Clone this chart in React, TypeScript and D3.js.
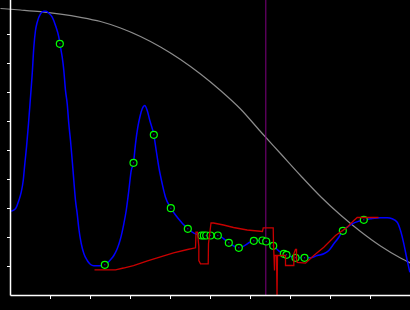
import React from "react";
import * as d3 from "d3";

// ---- data (x and y in axis units, 0..10) ----
const tickValues = [1, 2, 3, 4, 5, 6, 7, 8, 9];

const blueX = [0.018,0.125,0.208,0.268,0.318,0.358,0.4,0.45,0.5,0.543,0.583,0.625,0.668,0.75,0.833,0.893,0.958,1.043,1.125,1.208,1.25,1.293,1.333,1.375,1.418,1.458,1.5,1.543,1.583,1.625,1.668,1.708,1.768,1.833,1.918,2.0,2.083,2.25,2.358,2.418,2.5,2.583,2.668,2.75,2.833,2.893,2.958,3.018,3.075,3.125,3.183,3.233,3.293,3.358,3.418,3.483,3.583,3.643,3.708,3.793,3.875,4.008,4.168,4.433,4.583,4.775,5.0,5.183,5.458,5.708,6.083,6.3,6.393,6.568,6.75,6.833,6.9,7.125,7.35,7.5,7.668,7.833,7.958,8.083,8.208,8.308,8.418,8.543,8.708,8.833,9.0,9.25,9.418,9.543,9.668,9.75,9.833,9.918,9.983];
const blueY = [2.907,2.99,3.276,3.562,3.966,4.541,5.114,5.921,6.838,7.645,8.562,9.138,9.424,9.714,9.803,9.803,9.734,9.597,9.31,8.907,8.562,8.217,7.759,7.069,6.61,5.921,5.345,4.655,3.966,3.276,2.817,2.31,1.793,1.448,1.207,1.069,1.024,1.024,1.059,1.114,1.231,1.379,1.61,1.955,2.472,2.931,3.621,4.31,4.576,5.231,5.803,6.148,6.438,6.552,6.379,6.034,5.541,5.0,4.424,3.852,3.39,3.01,2.7,2.3,2.148,2.069,2.069,2.069,1.817,1.645,1.886,1.897,1.862,1.714,1.493,1.438,1.403,1.3,1.3,1.3,1.379,1.438,1.552,1.783,2.01,2.231,2.355,2.472,2.562,2.61,2.645,2.679,2.679,2.645,2.528,2.241,1.783,1.207,0.803];

const markerX = [1.233,2.358,3.075,3.583,4.008,4.433,4.775,4.833,4.893,5.0,5.183,5.458,5.708,6.083,6.3,6.393,6.568,6.833,6.9,7.125,7.35,8.308,8.833];
const markerY = [8.679,1.059,4.576,5.541,3.01,2.3,2.069,2.069,2.069,2.069,2.069,1.817,1.645,1.886,1.897,1.862,1.714,1.438,1.403,1.3,1.3,2.231,2.61];

const redX = [2.1,2.625,2.825,3.075,3.425,3.75,4.075,4.425,4.625,4.638,4.675,4.708,4.708,4.75,4.943,4.95,5.013,5.075,5.325,5.575,5.918,6.3,6.318,6.568,6.575,6.6,6.608,6.65,6.663,6.675,6.875,6.875,7.083,7.083,7.125,7.15,7.15,7.168,7.375,7.583,7.833,8.125,8.418,8.583,8.668,9.2];
const redY = [0.886,0.886,0.948,1.034,1.19,1.328,1.466,1.586,1.645,2.183,2.183,1.69,1.207,1.093,1.093,1.793,2.5,2.5,2.431,2.345,2.259,2.207,2.334,2.334,1.793,0.862,1.379,1.379,0,1.379,1.379,1.034,1.034,1.438,1.586,1.586,1.266,1.138,1.114,1.379,1.666,2.069,2.355,2.586,2.69,2.69];

const grayX = [-0.25,0.25,0.75,1.25,1.75,2.25,2.75,3.25,3.75,4.25,4.75,5.25,5.75,6.25,6.75,7.25,7.75,8.25,8.75,9.25,9.75,10.0];
const grayY = [9.897,9.845,9.786,9.703,9.593,9.448,9.224,8.931,8.569,8.138,7.638,7.069,6.431,5.655,4.897,4.138,3.414,2.776,2.207,1.707,1.293,1.121];

const cursorX = 6.383;

export default function App() {
  const W = 410, H = 310;
  const x = d3.scaleLinear().domain([0, 10]).range([10.5, 410.5]);
  const y = d3.scaleLinear().domain([0, 10]).range([295.5, 5.5]);

  const blueD = d3.line<number>().x((_, i) => x(blueX[i])).y((d) => y(d)).curve(d3.curveMonotoneX)(blueY) || "";
  const redD = d3.line<number>().x((_, i) => x(redX[i])).y((d) => y(d))(redY) || "";
  const grayD = d3.line<number>().x((_, i) => x(grayX[i])).y((d) => y(d)).curve(d3.curveMonotoneX)(grayY) || "";

  return (
    <svg width={W} height={H} style={{ position: "fixed", left: 0, top: 0, display: "block" }}>
      <rect x={0} y={0} width={W} height={H} fill="#000" />
      <path d={grayD} fill="none" stroke="#8c8c8c" strokeWidth={1.2} />
      <line x1={x(cursorX)} x2={x(cursorX)} y1={0} y2={y(0)} stroke="#800080" strokeWidth={1} />
      <path d={blueD} fill="none" stroke="#0000ff" strokeWidth={1.5} />
      {markerX.map((mx, i) => (
        <g key={i}>
          <circle cx={x(mx)} cy={y(markerY[i])} r={3.5} fill="#000" stroke="#00ff00" strokeWidth={1.2} />
          <circle cx={x(mx)} cy={y(markerY[i])} r={0.7} fill="#2020a0" />
        </g>
      ))}
      <path d={redD} fill="none" stroke="#c80000" strokeWidth={1.3} />
      <line x1={x(0)} x2={x(0)} y1={0} y2={y(0)} stroke="#fff" strokeWidth={1.5} />
      <line x1={x(0)} x2={W} y1={y(0)} y2={y(0)} stroke="#fff" strokeWidth={1.5} />
      {tickValues.map((t) => (
        <line key={"yl" + t} x1={x(0) - 3.5} x2={x(0)} y1={y(t)} y2={y(t)} stroke="#fff" strokeWidth={1} />
      ))}
      {tickValues.map((t) => (
        <line key={"xl" + t} x1={x(t)} x2={x(t)} y1={y(0)} y2={y(0) + 3.5} stroke="#fff" strokeWidth={1} />
      ))}
    </svg>
  );
}
